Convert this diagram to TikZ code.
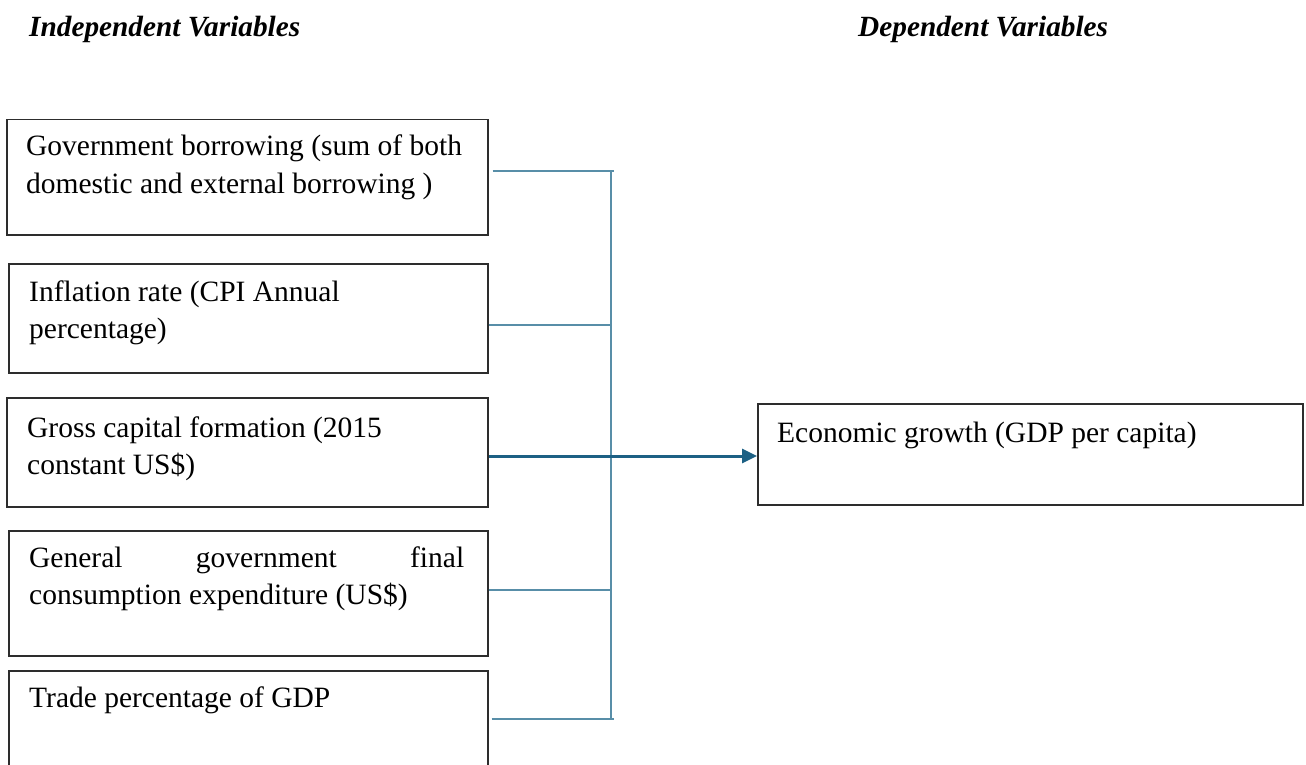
\documentclass[tikz,border=0pt]{standalone}
\usepackage{fontspec}
\setmainfont{Liberation Serif}
\usetikzlibrary{arrows.meta}
\definecolor{conn}{RGB}{88,142,168}
\definecolor{arr}{RGB}{28,96,132}
\definecolor{boxline}{RGB}{45,45,45}
\tikzset{
  vbox/.style={draw=boxline, line width=1.5pt, anchor=north west, inner sep=0pt},
  txt/.style={anchor=base west, inner sep=0pt, font=\fontsize{29.5}{37}\selectfont},
  ttl/.style={anchor=base west, inner sep=0pt, font=\fontsize{29.3}{37}\selectfont\bfseries\itshape},
  link/.style={draw=conn, line width=1.8pt},
  arrowlink/.style={draw=arr, line width=3pt, -{Triangle[length=15pt,width=14pt]}}
}
\begin{document}
\begin{tikzpicture}[x=1pt,y=-1pt]
\useasboundingbox (0,0) rectangle (1306,765);
% titles
\node[ttl] (tind) at (29,37) {Independent Variables};
\node[ttl] (tdep) at (858,37) {Dependent Variables};
% boxes
\node[vbox, minimum width=481pt, minimum height=115pt] (b1) at (6,119) {};
\node[vbox, minimum width=479pt, minimum height=109pt] (b2) at (8,263) {};
\node[vbox, minimum width=481pt, minimum height=109pt] (b3) at (6,397) {};
\node[vbox, minimum width=479pt, minimum height=125pt] (b4) at (8,530) {};
\node[vbox, minimum width=479pt, minimum height=98pt] (b5) at (8,670) {};
\node[vbox, minimum width=545pt, minimum height=101pt] (dv) at (757,403) {};
% texts
\node[txt] (t1) at (26,156) {\parbox[t]{450pt}{Government borrowing (sum of both\\domestic and external borrowing )}};
\node[txt] (t2) at (29,301) {\parbox[t]{450pt}{Inflation rate (CPI Annual\\percentage)}};
\node[txt] (t3) at (27,437) {\parbox[t]{450pt}{Gross capital formation (2015\\constant US\$)}};
\node[txt] (t4) at (29,567) {\parbox[t]{450pt}{\makebox[435pt][s]{General government final}\\consumption expenditure (US\$)}};
\node[txt] (t5) at (29,707) {Trade percentage of GDP};
\node[txt] (t6) at (777,442) {Economic growth (GDP per capita)};
% junction points on the vertical bar
\coordinate (j1) at (611,171);
\coordinate (j2) at (611,325);
\coordinate (j3) at (611,456);
\coordinate (j4) at (611,590);
\coordinate (j5) at (611,719);
\coordinate (e1) at (614,171);
\coordinate (e5) at (614,719);
% connectors
\draw[link] ([xshift=4pt]b1.east |- j1) -- (e1);
\draw[link] (b2.east |- j2) -- (j2);
\draw[link] (b4.east |- j4) -- (j4);
\draw[link] ([xshift=3pt]b5.east |- j5) -- (e5);
\draw[link] (j1) -- (j5);
\draw[arrowlink] (b3.east |- j3) -- (dv.west |- j3);
\end{tikzpicture}
\end{document}
